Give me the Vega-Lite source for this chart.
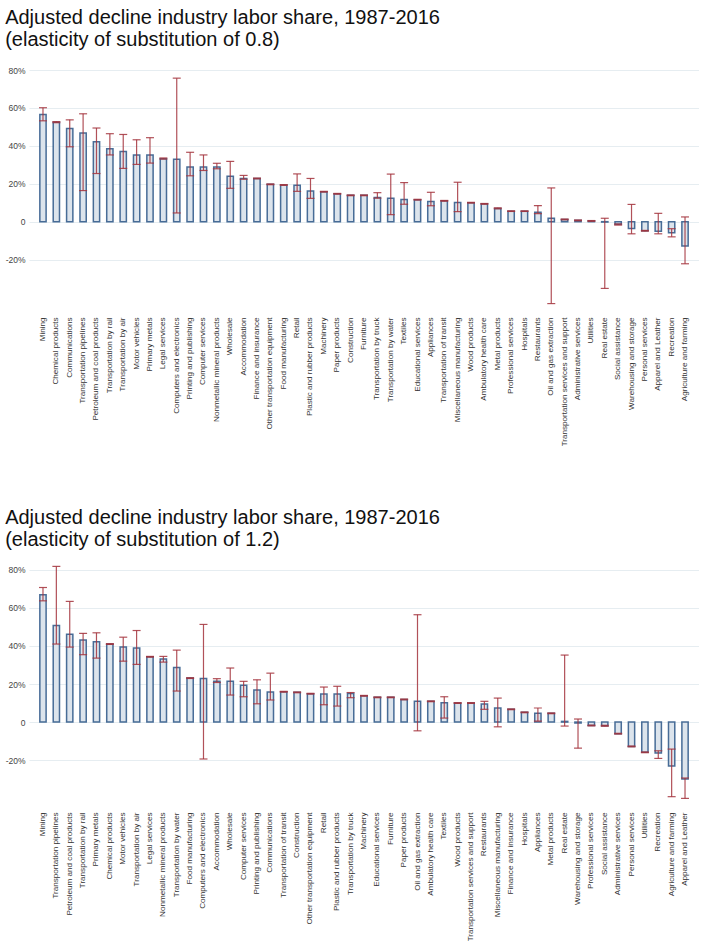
{
  "$schema": "https://vega.github.io/schema/vega-lite/v6.json",
  "padding": {"left": 5, "top": 8, "right": 0, "bottom": 0},
  "spacing": 61,
  "config": {
    "view": {"stroke": null},
    "font": "Liberation Sans",
    "title": {"font": "Liberation Sans", "fontSize": 20, "fontWeight": "normal", "color": "#111111", "anchor": "start", "lineHeight": 22, "offset": 16},
    "axisX": {"title": null, "labelAngle": -90, "labelFontSize": 8.1, "labelColor": "#333333", "ticks": false, "domain": false, "labelPadding": 10, "labelFont": "Liberation Sans", "labelLimit": 200},
    "axisY": {"title": null, "labelFontSize": 8.5, "labelColor": "#444444", "ticks": false, "domain": false, "gridColor": "#e6edf1", "gridWidth": 1.2, "labelPadding": 4, "labelFont": "Liberation Sans"}
  },
  "datasets": {
    "p1": [
      {"industry": "Mining", "v": 56.5, "lo": 53.2, "hi": 60.1},
      {"industry": "Chemical products", "v": 52.4, "lo": 52.2, "hi": 52.8},
      {"industry": "Communications", "v": 49.2, "lo": 39.5, "hi": 53.7},
      {"industry": "Transportation pipelines", "v": 46.8, "lo": 16.4, "hi": 56.9},
      {"industry": "Petroleum and coal products", "v": 42.1, "lo": 25.4, "hi": 49.4},
      {"industry": "Transportation by rail", "v": 38.4, "lo": 35.2, "hi": 46.4},
      {"industry": "Transportation by air", "v": 37.0, "lo": 28.1, "hi": 46.0},
      {"industry": "Motor vehicles", "v": 35.2, "lo": 30.2, "hi": 43.2},
      {"industry": "Primary metals", "v": 35.2, "lo": 30.9, "hi": 44.3},
      {"industry": "Legal services", "v": 33.2, "lo": 33.0, "hi": 33.6},
      {"industry": "Computers and electronics", "v": 32.9, "lo": 4.6, "hi": 75.7},
      {"industry": "Printing and publishing", "v": 28.8, "lo": 24.2, "hi": 36.6},
      {"industry": "Computer services", "v": 28.8, "lo": 27.0, "hi": 35.2},
      {"industry": "Nonmetallic mineral products", "v": 28.8, "lo": 27.9, "hi": 30.8},
      {"industry": "Wholesale", "v": 24.0, "lo": 17.6, "hi": 31.8},
      {"industry": "Accommodation", "v": 22.8, "lo": 22.4, "hi": 24.4},
      {"industry": "Finance and insurance", "v": 22.8, "lo": 22.6, "hi": 23.0},
      {"industry": "Other transportation equipment", "v": 19.7, "lo": 19.5, "hi": 19.9},
      {"industry": "Food manufacturing", "v": 19.4, "lo": 19.2, "hi": 19.6},
      {"industry": "Retail", "v": 19.2, "lo": 16.0, "hi": 25.2},
      {"industry": "Plastic and rubber products", "v": 16.2, "lo": 12.3, "hi": 22.8},
      {"industry": "Machinery", "v": 15.8, "lo": 15.6, "hi": 16.0},
      {"industry": "Paper products", "v": 14.7, "lo": 14.5, "hi": 14.9},
      {"industry": "Construction", "v": 13.9, "lo": 13.7, "hi": 14.1},
      {"industry": "Furniture", "v": 13.9, "lo": 13.7, "hi": 14.1},
      {"industry": "Transportation by truck", "v": 12.8, "lo": 12.4, "hi": 15.3},
      {"industry": "Transportation by water", "v": 12.3, "lo": 3.7, "hi": 25.1},
      {"industry": "Textiles", "v": 11.7, "lo": 9.2, "hi": 20.6},
      {"industry": "Educational services", "v": 11.6, "lo": 11.4, "hi": 11.8},
      {"industry": "Appliances", "v": 10.7, "lo": 8.4, "hi": 15.5},
      {"industry": "Transportation of transit", "v": 11.0, "lo": 10.8, "hi": 11.2},
      {"industry": "Miscellaneous manufacturing", "v": 10.1, "lo": 5.3, "hi": 20.8},
      {"industry": "Wood products", "v": 10.0, "lo": 9.8, "hi": 10.2},
      {"industry": "Ambulatory health care", "v": 9.4, "lo": 9.2, "hi": 9.6},
      {"industry": "Metal products", "v": 6.9, "lo": 6.8, "hi": 7.3},
      {"industry": "Professional services", "v": 5.5, "lo": 5.4, "hi": 5.7},
      {"industry": "Hospitals", "v": 5.5, "lo": 5.4, "hi": 5.7},
      {"industry": "Restaurants", "v": 5.0, "lo": 4.3, "hi": 8.5},
      {"industry": "Oil and gas extraction", "v": 1.8, "lo": -43.2, "hi": 17.8},
      {"industry": "Transportation services and support", "v": 1.2, "lo": 1.0, "hi": 1.4},
      {"industry": "Administrative services", "v": 0.7, "lo": 0.5, "hi": 0.9},
      {"industry": "Utilities", "v": 0.4, "lo": 0.2, "hi": 0.6},
      {"industry": "Real estate", "v": -0.2, "lo": -35.2, "hi": 1.8},
      {"industry": "Social assistance", "v": -1.4, "lo": -1.8, "hi": -1.2},
      {"industry": "Warehousing and storage", "v": -3.6, "lo": -6.4, "hi": 9.1},
      {"industry": "Personal services", "v": -4.8, "lo": -5.0, "hi": -4.6},
      {"industry": "Apparel and Leather", "v": -5.0, "lo": -6.4, "hi": 4.4},
      {"industry": "Recreation", "v": -5.9, "lo": -8.0, "hi": -3.7},
      {"industry": "Agriculture and farming", "v": -12.8, "lo": -22.2, "hi": 2.5}
    ],
    "p2": [
      {"industry": "Mining", "v": 66.9, "lo": 63.7, "hi": 70.7},
      {"industry": "Transportation pipelines", "v": 50.8, "lo": 41.0, "hi": 81.8},
      {"industry": "Petroleum and coal products", "v": 46.2, "lo": 39.4, "hi": 63.4},
      {"industry": "Transportation by rail", "v": 43.1, "lo": 35.4, "hi": 46.6},
      {"industry": "Primary metals", "v": 42.2, "lo": 33.6, "hi": 46.9},
      {"industry": "Chemical products", "v": 41.0, "lo": 40.8, "hi": 41.2},
      {"industry": "Motor vehicles", "v": 39.4, "lo": 32.0, "hi": 44.6},
      {"industry": "Transportation by air", "v": 38.9, "lo": 30.3, "hi": 48.1},
      {"industry": "Legal services", "v": 34.3, "lo": 34.1, "hi": 34.5},
      {"industry": "Nonmetallic mineral products", "v": 33.1, "lo": 31.5, "hi": 34.5},
      {"industry": "Transportation by water", "v": 28.7, "lo": 16.3, "hi": 37.8},
      {"industry": "Food manufacturing", "v": 23.1, "lo": 22.9, "hi": 23.3},
      {"industry": "Computers and electronics", "v": 22.9, "lo": -19.4, "hi": 51.3},
      {"industry": "Accommodation", "v": 21.4, "lo": 20.8, "hi": 22.8},
      {"industry": "Wholesale", "v": 21.4, "lo": 14.2, "hi": 28.4},
      {"industry": "Computer services", "v": 19.4, "lo": 13.3, "hi": 21.4},
      {"industry": "Printing and publishing", "v": 16.8, "lo": 9.6, "hi": 22.2},
      {"industry": "Communications", "v": 15.8, "lo": 11.6, "hi": 25.7},
      {"industry": "Transportation of transit", "v": 15.9, "lo": 15.7, "hi": 16.1},
      {"industry": "Construction", "v": 15.6, "lo": 15.4, "hi": 15.8},
      {"industry": "Other transportation equipment", "v": 14.9, "lo": 14.7, "hi": 15.1},
      {"industry": "Retail", "v": 14.7, "lo": 9.1, "hi": 18.4},
      {"industry": "Plastic and rubber products", "v": 14.7, "lo": 8.4, "hi": 18.8},
      {"industry": "Transportation by truck", "v": 15.0, "lo": 12.8, "hi": 15.5},
      {"industry": "Machinery", "v": 13.8, "lo": 13.6, "hi": 14.0},
      {"industry": "Educational services", "v": 13.0, "lo": 12.8, "hi": 13.2},
      {"industry": "Furniture", "v": 13.0, "lo": 12.8, "hi": 13.2},
      {"industry": "Paper products", "v": 11.9, "lo": 11.7, "hi": 12.1},
      {"industry": "Oil and gas extraction", "v": 10.9, "lo": -4.6, "hi": 56.4},
      {"industry": "Ambulatory health care", "v": 10.9, "lo": 10.7, "hi": 11.1},
      {"industry": "Textiles", "v": 10.2, "lo": 2.1, "hi": 13.3},
      {"industry": "Wood products", "v": 10.0, "lo": 9.8, "hi": 10.2},
      {"industry": "Transportation services and support", "v": 10.0, "lo": 9.8, "hi": 10.2},
      {"industry": "Restaurants", "v": 9.5, "lo": 6.7, "hi": 10.9},
      {"industry": "Miscellaneous manufacturing", "v": 7.4, "lo": -2.5, "hi": 12.6},
      {"industry": "Finance and insurance", "v": 6.7, "lo": 6.5, "hi": 6.9},
      {"industry": "Hospitals", "v": 5.1, "lo": 4.9, "hi": 5.3},
      {"industry": "Appliances", "v": 4.6, "lo": 0.5, "hi": 7.4},
      {"industry": "Metal products", "v": 4.6, "lo": 4.4, "hi": 4.8},
      {"industry": "Real estate", "v": 0.35, "lo": -2.1, "hi": 35.2},
      {"industry": "Warehousing and storage", "v": -0.5, "lo": -13.7, "hi": 1.6},
      {"industry": "Professional services", "v": -1.8, "lo": -2.0, "hi": -1.6},
      {"industry": "Social assistance", "v": -1.9, "lo": -2.2, "hi": -1.7},
      {"industry": "Administrative services", "v": -6.1, "lo": -6.3, "hi": -5.9},
      {"industry": "Personal services", "v": -12.8, "lo": -13.0, "hi": -12.6},
      {"industry": "Utilities", "v": -15.9, "lo": -16.1, "hi": -15.7},
      {"industry": "Recreation", "v": -16.3, "lo": -19.1, "hi": -15.1},
      {"industry": "Agriculture and farming", "v": -23.1, "lo": -39.2, "hi": -14.2},
      {"industry": "Apparel and Leather", "v": -29.9, "lo": -40.1, "hi": -29.4}
    ]
  },
  "vconcat": [
    {
      "title": {"text": ["Adjusted decline industry labor share, 1987-2016", "(elasticity of substitution of 0.8)"]},
      "data": {"name": "p1"},
      "width": 670,
      "height": 237,
      "encoding": {
        "x": {"field": "industry", "type": "nominal", "sort": null, "scale": {"paddingInner": 0.53, "paddingOuter": 0.81}}
      },
      "layer": [
        {"mark": {"type": "bar", "fill": "#dce4ec", "stroke": "#2a5586", "strokeWidth": 1.5, "strokeOpacity": 0.85},
         "encoding": {"y": {"field": "v", "type": "quantitative", "scale": {"domain": [-45, 80], "nice": false, "zero": false},
           "axis": {"values": [-20, 0, 20, 40, 60, 80], "labelExpr": "datum.value == 0 ? '0' : datum.value + '%'"}}}},
        {"mark": {"type": "rule", "color": "#a3323c", "strokeWidth": 1.2, "opacity": 0.85},
         "encoding": {"y": {"field": "lo", "type": "quantitative"}, "y2": {"field": "hi"}}},
        {"mark": {"type": "tick", "color": "#a3323c", "size": 8, "thickness": 1.2, "opacity": 0.85},
         "encoding": {"y": {"field": "lo", "type": "quantitative"}}},
        {"mark": {"type": "tick", "color": "#a3323c", "size": 8, "thickness": 1.2, "opacity": 0.85},
         "encoding": {"y": {"field": "hi", "type": "quantitative"}}}
      ]
    },
    {
      "title": {"text": ["Adjusted decline industry labor share, 1987-2016", "(elasticity of substitution of 1.2)"]},
      "data": {"name": "p2"},
      "width": 670,
      "height": 236,
      "encoding": {
        "x": {"field": "industry", "type": "nominal", "sort": null, "scale": {"paddingInner": 0.53, "paddingOuter": 0.81}}
      },
      "layer": [
        {"mark": {"type": "bar", "fill": "#dce4ec", "stroke": "#2a5586", "strokeWidth": 1.5, "strokeOpacity": 0.85},
         "encoding": {"y": {"field": "v", "type": "quantitative", "scale": {"domain": [-42, 82], "nice": false, "zero": false},
           "axis": {"values": [-20, 0, 20, 40, 60, 80], "labelExpr": "datum.value == 0 ? '0' : datum.value + '%'"}}}},
        {"mark": {"type": "rule", "color": "#a3323c", "strokeWidth": 1.2, "opacity": 0.85},
         "encoding": {"y": {"field": "lo", "type": "quantitative"}, "y2": {"field": "hi"}}},
        {"mark": {"type": "tick", "color": "#a3323c", "size": 8, "thickness": 1.2, "opacity": 0.85},
         "encoding": {"y": {"field": "lo", "type": "quantitative"}}},
        {"mark": {"type": "tick", "color": "#a3323c", "size": 8, "thickness": 1.2, "opacity": 0.85},
         "encoding": {"y": {"field": "hi", "type": "quantitative"}}}
      ]
    }
  ]
}
